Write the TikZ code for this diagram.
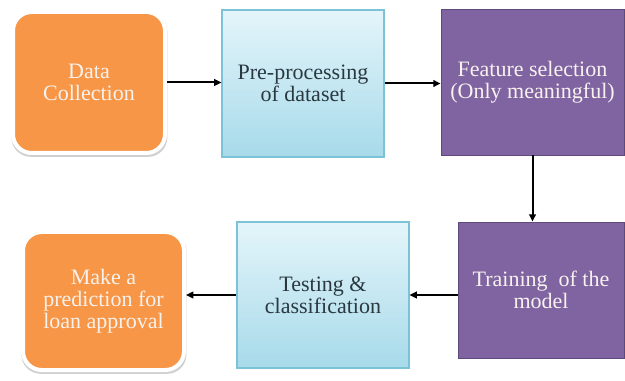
\documentclass[tikz,border=0pt]{standalone}
\usepackage{fontspec}
\newfontfamily\boxfont{Liberation Serif}
\usetikzlibrary{arrows.meta,shadows}
\definecolor{orng}{HTML}{F79646}
\definecolor{purp}{HTML}{8064A2}
\definecolor{purpd}{HTML}{5E4A7A}
\definecolor{bluetop}{HTML}{E4F5FA}
\definecolor{bluebot}{HTML}{A7DAEA}
\definecolor{blueedge}{HTML}{7CC3D8}
\definecolor{darktext}{HTML}{2A3840}
\definecolor{lighttext}{HTML}{F7F2EE}
\begin{document}
\begin{tikzpicture}[x=0.75pt,y=-0.75pt,
  base/.style={align=center,inner sep=0pt,font=\boxfont\fontsize{16.5}{16.5}\selectfont},
  orangebox/.style={base,fill=orng,draw=white,line width=3pt,rounded corners=14pt,text=lighttext,
     drop shadow={shadow scale=1.025,shadow xshift=0.3pt,shadow yshift=-1.5pt,fill=black!30,opacity=0.6}},
  purplebox/.style={base,fill=purp,draw=purpd,line width=0.6pt,text=lighttext,
     drop shadow={shadow xshift=0.8pt,shadow yshift=-1pt,fill=black!40,opacity=0.5}},
  bluebox/.style={base,top color=bluetop,bottom color=bluebot,draw=blueedge,line width=0.8pt,text=darktext,
     drop shadow={shadow xshift=0.8pt,shadow yshift=-1pt,fill=black!40,opacity=0.5}},
  arr/.style={line width=1.5pt,-{Triangle[length=5.5pt,width=5pt]}}]
\useasboundingbox[fill=white] (0,0) rectangle (625,381);
\node[orangebox,minimum width=152*0.75pt,minimum height=141*0.75pt] (dc) at (89,82.5) {Data\\Collection};
\node[bluebox,minimum width=162*0.75pt,minimum height=147*0.75pt] (pre) at (303,83.5) {Pre-processing\\of dataset};
\node[purplebox,minimum width=183*0.75pt,minimum height=146*0.75pt] (fs) at (532.5,82) {Feature selection\\(Only meaningful)};
\node[purplebox,minimum width=166*0.75pt,minimum height=136*0.75pt] (tr) at (541,290) {Training\ \ of the\\model};
\node[bluebox,minimum width=172*0.75pt,minimum height=146*0.75pt] (ts) at (323,295) {Testing \&\\classification};
\node[orangebox,minimum width=161*0.75pt,minimum height=138*0.75pt] (mp) at (103.5,301) {Make a\\prediction for\\loan approval};
\draw[arr] (dc.east) -- (dc.east -| pre.west);
\draw[arr] (pre.east) -- (pre.east -| fs.west);
\draw[arr] (fs.south) -- (fs.south |- tr.north);
\draw[arr] (tr.west |- ts.east) -- (ts.east);
\draw[arr] (ts.west) -- (ts.west -| mp.east);
\end{tikzpicture}
\end{document}
